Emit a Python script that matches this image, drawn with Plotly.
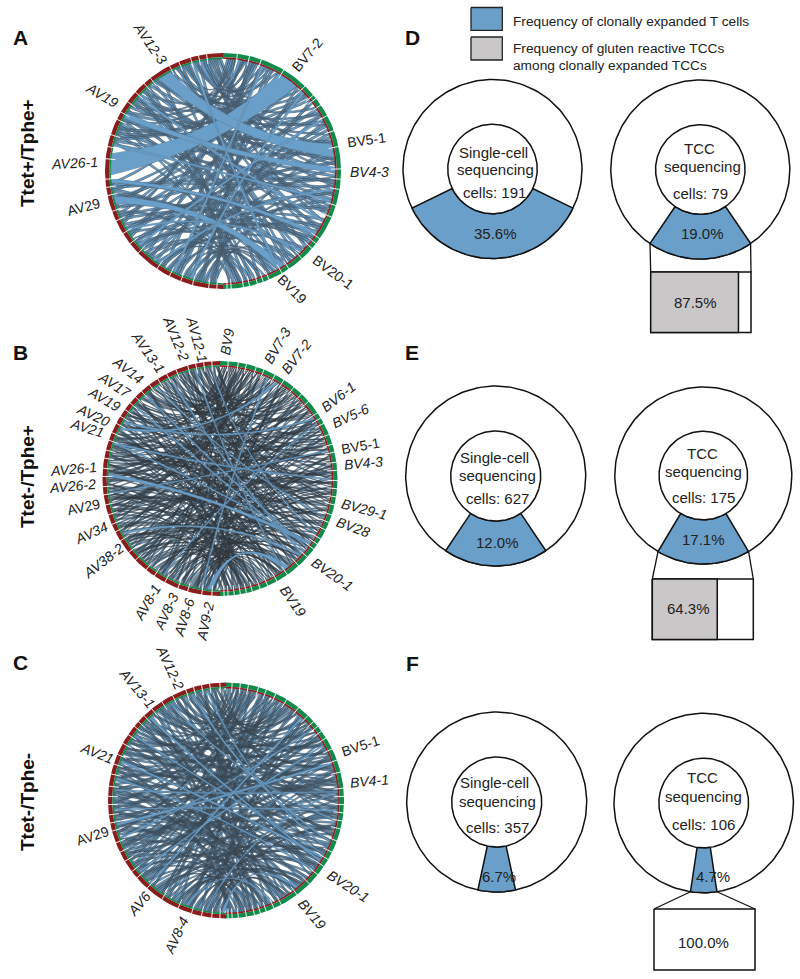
import numpy as np
import plotly.graph_objects as go

FONT = "Liberation Sans"
BLUE = "#6a9fc9"
GRAY = "#c9c7c8"
RED = "#8a1c1e"
GREEN = "#0f8a4a"
TXT = "#222222"

# ---------- chord panels: angles in degrees clockwise from top ----------
A_thin_alpha = [183,185,186,188,190,192,193,195,197,199,200,202,204,206,207,209,211,213,214,216,218,220,222,223,225,227,229,230,232,234,236,238,239,241,243,245,246,248,250,252,254,255,257,259,261,263,264,284,285,287,288,290,292,293,295,297,298,300,302,304,305,307,309,310,312,314,316,317,319,321,323,324,326,328,330,332,333,335,337,339,340,342,344,346,347,349,351,353,354,356,358,186,194,203,212,221,231,242,251,262,286,296,306,318,329,341,352]
A_thin_beta = [12,41,145,77,23,160,96,5,118,64,172,33,105,150,52,88,14,133,170,44,122,68,8,158,101,29,142,72,115,17,165,56,93,128,3,47,110,175,85,21,137,60,152,36,98,10,125,163,80,26,140,107,58,172,15,92,130,48,155,74,6,119,35,147,83,20,168,102,63,135,11,90,176,43,112,28,156,70,124,4,97,143,55,24,161,86,116,39,132,9,76,51,153,19,108,167,66,2,127,94,31,148,79,174,46,121,13]
A_more_alpha = [184,191,198,205,215,226,235,244,253,260,283,289,294,301,308,315,322,331,338,345,350,355,189,208,219,228,237,247,258,291,299,311,327,336,348,357]
A_more_beta = [100,25,155,60,140,85,15,120,40,170,95,50,130,10,75,165,35,110,145,65,5,90,160,70,30,126,82,16,150,38,104,171,59,138,22,84]
A_band_alpha = [268,325,298,253,264,344,214,228,205,196,238,311,283,348]
A_band_beta = [30,76,88,147,123,150,99,62,20,45,135,116,105,8]
A_band_size = [11,7,3,4,2,1.2,1.2,1.2,1.2,1.2,1.2,1.2,1.2,1.2]
A_ticks = [183,187,195,201,207,214,226,232,238,245,250,258,262,266,276,282,288,296,300,306,312,318,322,333,338,344,348,352,7,13,19,31,44,50,52,56,62,70,78,89,94,99,107,113,125,128,131,138,146,150,157,160,163,167,170,176,178]

B_thin_alpha = [181,182,183,184,186,187,188,189,191,192,193,194,196,197,198,199,201,202,203,204,206,207,208,209,211,212,213,214,216,217,218,219,221,222,223,224,226,227,228,229,231,232,233,234,236,237,238,239,241,242,243,244,246,247,248,249,251,252,253,254,256,257,258,259,261,262,263,264,266,267,268,269,271,272,273,274,276,277,278,279,281,282,283,284,286,287,288,289,291,292,293,294,296,297,298,299,301,302,303,304,306,307,308,309,311,312,313,314,316,317,318,319,321,322,323,324,326,327,328,329,331,332,333,334,336,337,338,339,341,342,343,344,346,347,348,349,351,352,353,354,356,357,358,359,185,190,195,200,205,210,215,220,225,230,235,240,245,250,255,260,265,270,275,280,285,290,295,300,305,310,315,320,325,330,335,340,345,350,355,184,199,213,228,243,258,274,289,304,319,334,349,192,207,222,237,252,267,282,297,312]
B_thin_beta = [88,17,141,52,169,33,106,74,5,128,61,155,24,97,176,43,119,9,83,147,36,162,68,112,2,134,57,91,172,21,125,46,153,79,13,101,165,30,139,64,8,117,85,158,39,109,174,55,131,19,95,148,71,3,122,42,167,87,27,136,60,179,11,103,50,151,76,34,115,160,7,92,143,66,23,127,48,170,82,14,110,155,37,98,1,133,62,175,28,120,73,146,16,104,45,163,89,31,138,58,10,113,168,70,25,129,53,150,94,6,123,41,177,80,19,107,159,35,142,65,12,99,171,49,126,75,22,144,90,4,118,56,164,38,102,152,67,15,135,84,29,173,47,111,78,20,156,59,130,8,96,166,40,121,69,18,145,86,32,114,178,51,137,77,3,100,161,44,124,63,26,149,93,11,116,54,169,36,140,81,6,105,157,72,22,132,61,175,43,108,16,147,83,30,127,58,167,92,1,119,46,154,74,28,138,97,13,163,52,112,35,144,68,9,125]
B_more_alpha = [186,309,224,271,198,337,252,289,211,346,233,262,184,320,277,205,298,241,355,268,192,314,229,284,340,217,256,301,188,327,246,274,351,208,293,236,263,316,196,343,281,222,306,250,358,201,269,332,227,290,183,312,259,344,214,279,238,323,194,354,265,304,219,338,248,286,209,351,231,296,187,325,256,273,203,342,242,309,266,190,330,226,283,359,211,299,253,318,235,277,199,347,262,305,220,335,244,291,185,321,270,214,302,257,340,229,287,193,353,239,275,311,206,328,251,295,224,345,261,183]
B_more_beta = [44,150,9,118,72,33,166,90,21,137,58,104,173,12,81,148,39,126,64,5,157,95,28,113,170,49,140,75,16,101,162,36,129,86,2,151,60,109,24,176,68,143,31,97,55,123,14,159,42,84,133,7,115,47,168,78,19,145,92,38,120,63,175,26,106,153,50,88,11,134,71,164,34,99,141,56,17,127,82,4,172,45,111,66,149,22,94,136,59,10,160,77,116,29,178,40,103,147,69,15,124,53,87,165,32,139,1,96,154,61,20,117,74,142,35,168]
B_band_alpha = [296,271,288,310,333,184,189,300,288,347,325,262,240,210,318,355]
B_band_beta = [30,125,126,130,132,142,25,57,90,145,110,75,133,60,128,120]
B_band_size = [1.3,1.7,0.8,0.8,0.8,2.6,0.8,1.0,0.8,0.7,0.7,0.7,1.1,0.7,0.8,0.7]
B_ticks = [184,189,196,201,208,214,219,226,231,238,243,247,252,257,262,266,271,275,280,284,289,293,298,302,306,310,314,318,323,328,333,338,344,348,352,356,4,9,13,18,22,28,33,39,44,49,56,59,62,68,73,77,82,86,91,95,99,103,108,112,116,121,124,127,132,138,145,151,156,160,164,167,170,173,176,178]

C_thin_alpha = [182,183,185,186,187,189,190,192,193,194,196,197,199,200,201,203,204,206,207,208,210,211,213,214,215,217,218,220,221,222,224,225,227,228,229,231,232,234,235,236,238,239,241,242,243,245,246,248,249,250,252,253,255,256,257,259,260,262,263,264,266,267,269,270,271,273,274,276,277,278,280,281,283,284,285,287,288,290,291,292,294,295,297,298,299,301,302,304,305,306,308,309,311,312,313,315,316,318,319,320,322,323,325,326,327,329,330,332,333,334,336,337,339,340,341,343,344,346,347,348,350,351,353,354,355,357,358,184,191,198,205,212,219,226,233,240,247,254,261,268,275,282,289,296,303,310,317,324,331,338,345,352,188,202,216,230,244,258,272,286,300,314,328,342]
C_thin_beta = [61,148,27,103,172,40,89,12,134,66,157,21,116,49,178,75,3,125,95,36,162,58,141,18,107,83,169,31,120,6,152,70,44,98,175,25,130,62,10,145,87,38,113,165,53,1,127,78,155,33,101,15,138,68,173,46,92,122,8,159,56,110,28,143,80,4,133,63,168,37,97,19,151,72,118,42,177,85,13,126,57,160,30,105,140,76,22,114,50,166,90,7,136,64,171,35,100,153,16,123,69,47,146,82,2,111,163,39,94,131,59,174,24,108,73,149,11,128,52,164,86,34,119,158,65,5,99,43,137,77,170,20,115,54,161,29,93,142,67,9,124,48,176,84,32,106,150,60,14,129,74,167,41,96,135,55,26,112,156,79,0,121,88,45,147,17,103,71]
C_more_alpha = [186,214,243,272,301,330,195,224,253,282,311,340,205,234,263,292,321,350,182,210,239,268,297,326,355,191,220,249,278,307,336,200,229,258,287,316,345,208,237,266,295,324,353,188,217,246,275,304,333,198,227,256,285,314,343,204,233,262,291,320,349]
C_more_beta = [110,33,167,75,14,139,52,91,158,24,120,66,179,44,102,8,147,81,36,126,60,172,19,95,150,71,3,115,47,133,86,160,27,104,12,141,57,178,38,93,124,68,6,153,80,22,117,49,164,89,31,137,74,10,107,55,169,42,98,145,16]
C_band_alpha = [257,290,317,342,190,275,265,230,181,305,250,330,222,281,200,350]
C_band_beta = [70,120,122,111,85,85,95,60,140,118,50,100,42,128,155,115]
C_band_size = [1.2,1.0,1.0,1.0,0.8,0.7,0.7,0.8,1.3,0.8,0.8,0.8,0.8,0.8,1.1,0.8]
C_ticks = [183,187,192,197,204,213,222,229,233,239,244,249,255,259,263,268,272,277,283,288,293,299,304,309,312,316,321,327,333,340,344,348,352,357,3,7,11,16,20,25,31,38,44,48,51,54,58,64,70,76,84,88,92,96,100,104,110,116,120,124,129,135,143,152,156,160,163,166,170,174,177,179]

A_labels = [("AV12-3",150,43,55,1),("BV7-2",307,55,-50,0),("AV19",102,95,31,1),("BV5-1",366,140,-8,0),("AV26-1",74,163,-3,1),("BV4-3",369,172,0,1),("AV29",83,207,-15,0),("BV20-1",333,272,37,0),("BV19",292,289,45,0)]
B_labels = [("AV12-1",197,339,75,1),("AV12-2",176,338,68,1),("AV13-1",148,352,55,1),("AV14",128,370,38,1),("AV17",115,385,33,1),("AV19",104,399,30,1),("AV20",93,415,25,1),("AV21",87,428,17,1),("AV26-1",73,469,-5,1),("AV26-2",72,486,-5,1),("AV29",83,507,-12,0),("AV34",91,533,-25,1),("AV38-2",103,561,-38,1),("AV8-1",147,603,-60,1),("AV8-3",166,612,-65,1),("AV8-6",184,618,-72,1),("AV9-2",205,622,-78,1),("BV9",227,342,-80,1),("BV7-3",277,346,-60,1),("BV7-2",296,357,-52,1),("BV6-1",338,397,-38,1),("BV5-6",350,416,-25,1),("BV5-1",360,446,-10,0),("BV4-3",363,463,-5,1),("BV29-1",364,509,15,1),("BV28",353,527,20,1),("BV20-1",332,574,35,1),("BV19",293,601,55,1)]
C_labels = [("AV12-2",170,667,65,1),("AV13-1",137,688,50,1),("AV21",97,753,22,1),("AV29",92,836,-18,0),("AV6",139,904,-50,1),("AV8-4",176,936,-65,1),("BV5-1",360,746,-18,0),("BV4-1",369,781,-5,1),("BV20-1",348,886,33,1),("BV19",312,914,50,1)]

# ---------- donut panels ----------
donut_pct = [35.6, 19.0, 12.0, 17.1, 6.7, 4.7]
# wedge share as drawn in the picture (panel E's single-cell wedge is wider than its label)
wedge_share = [35.6, 19.0, 18.8, 17.1, 6.7, 4.7]
donut_cells = [191, 79, 627, 175, 357, 106]
donut_method = ["Single-cell", "TCC", "Single-cell", "TCC", "Single-cell", "TCC"]
donut_cx = [492.5, 700.3, 495.7, 703.3, 496.7, 703.7]
donut_cy = [169, 169.5, 476, 475.5, 802, 803]
donut_R = [89.5, 89.5, 90, 88.5, 90, 89.7]
box_pct = [87.5, 64.3, 100.0]
box_gray = [True, True, False]
box_x = [(650.7, 751), (652.3, 753.3), (654, 755)]
box_y = [(272, 332.5), (579, 639.5), (909, 970)]

fig = go.Figure()
t = np.linspace(0, 1, 15)
BEND = 0.5


def pol(deg, r, cx, cy):
    a = np.radians(deg)
    return cx + r * np.sin(a), cy - r * np.cos(a)


def ribbon(a1, a2, b1, b2, r, cx, cy):
    xs, ys = [], []
    for d0, d1, d2 in [(a1, a2, b1), (b1, b2, a1)]:
        arc = np.linspace(d0, d1, 4)
        x, y = pol(arc, r, cx, cy)
        xs += list(x)
        ys += list(y)
        x0, y0 = pol(d1, r, cx, cy)
        x1, y1 = pol(d2, r, cx, cy)
        qx = (x0 + x1) / 2 + BEND * (cx - (x0 + x1) / 2)
        qy = (y0 + y1) / 2 + BEND * (cy - (y0 + y1) / 2)
        xs += list((1 - t) ** 2 * x0 + 2 * t * (1 - t) * qx + t ** 2 * x1)
        ys += list((1 - t) ** 2 * y0 + 2 * t * (1 - t) * qy + t ** 2 * y1)
    return xs + [None], ys + [None]


def poly(xs, ys, fill, line=None, width=0):
    fig.add_trace(go.Scatter(x=xs, y=ys, mode="lines", fill="toself", fillcolor=fill,
                             line=dict(color=line or fill, width=width), hoverinfo="skip", showlegend=False))


def ring(d0, d1, r0, r1, cx, cy, color):
    arc = np.linspace(d0, d1, 120)
    x0, y0 = pol(arc, r0, cx, cy)
    x1, y1 = pol(arc[::-1], r1, cx, cy)
    poly(list(x0) + list(x1), list(y0) + list(y1), color)


def chord_panel(cx, cy, R, ta, tb, tw, edge, ew, ba, bb, bs, ticks, labels):
    r = R - 5.8
    X, Y = [], []
    for a, b in zip(ta, tb):
        x, y = ribbon(a, a + tw, b, b + tw, r, cx, cy)
        X += x
        Y += y
    poly(X, Y, BLUE, edge, ew)
    for a, b, s in zip(ba, bb, bs):
        x, y = ribbon(a, a + s, b, b + s, r, cx, cy)
        poly(x, y, BLUE, "#557a97", 0.4)
    ring(0, 180, R - 4.2, R, cx, cy, GREEN)
    ring(180, 360, R - 4.2, R, cx, cy, RED)
    ring(0, 180, R - 5.8, R - 4.2, cx, cy, RED)
    ring(180, 360, R - 5.8, R - 4.2, cx, cy, GREEN)
    X, Y = [], []
    for d in ticks:
        x, y = pol(np.array([d, d]), np.array([R - 10, R + 1]), cx, cy)
        X += list(x) + [None]
        Y += list(y) + [None]
    fig.add_trace(go.Scatter(x=X, y=Y, mode="lines", line=dict(color="white", width=0.9),
                             hoverinfo="skip", showlegend=False))
    for txt, x, y, ang, it in labels:
        label = f"<i>{txt}</i>" if it else txt
        fig.add_annotation(x=x, y=y, text=label, textangle=ang, showarrow=False,
                           font=dict(family=FONT, size=14, color=TXT), xanchor="center", yanchor="middle")


chord_panel(223, 171, 118, A_thin_alpha + A_more_alpha, A_thin_beta + A_more_beta, 1.2, "#46596a", 0.6,
            A_band_alpha, A_band_beta, A_band_size, A_ticks, A_labels)
chord_panel(220, 478.5, 117.5, B_thin_alpha + B_more_alpha, B_thin_beta + B_more_beta, 0.5, "#33383d", 0.42,
            B_band_alpha, B_band_beta, B_band_size, B_ticks, B_labels)
chord_panel(226, 800.5, 118, C_thin_alpha + C_more_alpha, C_thin_beta + C_more_beta, 0.9, "#3a4650", 0.5,
            C_band_alpha, C_band_beta, C_band_size, C_ticks, C_labels)


def text(x, y, s, size=15, bold=False, angle=0, anchor="center", color=TXT):
    fig.add_annotation(x=x, y=y, text=f"<b>{s}</b>" if bold else s, showarrow=False, textangle=angle,
                       font=dict(family=FONT, size=size, color=color), xanchor=anchor, yanchor="middle")


def circle(cx, cy, r):
    arc = np.linspace(0, 360, 181)
    x, y = pol(arc, r, cx, cy)
    poly(list(x), list(y), "white", "#111111", 1.5)


donut_text = [
    [(493, 152), (495, 169), (494, 192), (495, 233)],
    [(699, 148), (702, 166), (700, 193), (702, 233)],
    [(494, 457), (497, 475), (497, 498), (497, 542)],
    [(702, 453), (703, 471), (703, 497), (703, 539)],
    [(494, 782), (497, 801), (497, 827), (499, 876)],
    [(702, 777), (703, 796), (703, 824), (713, 876)],
]
box_text = [(695, 302), (688, 608), (703, 942)]

for i, pct in enumerate(donut_pct):
    cx, cy, R = donut_cx[i], donut_cy[i], donut_R[i]
    circle(cx, cy, R)
    half = wedge_share[i] * 1.8
    arc = np.linspace(180 - half, 180 + half, 60)
    x0, y0 = pol(arc, R, cx, cy)
    x1, y1 = pol(arc[::-1], R * 0.5, cx, cy)
    poly(list(x0) + list(x1) + [x0[0]], list(y0) + list(y1) + [y0[0]], BLUE, "#111111", 1.5)
    circle(cx, cy, R * 0.5)
    pos = donut_text[i]
    text(*pos[0], donut_method[i])
    text(*pos[1], "sequencing")
    text(*pos[2], f"cells: {donut_cells[i]}")
    text(*pos[3], f"{pct:.1f}%")
    if i % 2 == 1:
        j = i // 2
        (xl, xr), (yt, yb) = box_x[j], box_y[j]
        lx, ly = pol(180 + half, R, cx, cy)
        rx, ry = pol(180 - half, R, cx, cy)
        fig.add_trace(go.Scatter(x=[lx, xl, None, rx, xr], y=[ly, yt, None, ry, yt], mode="lines",
                                 line=dict(color="#111111", width=1.3), hoverinfo="skip", showlegend=False))
        poly([xl, xr, xr, xl, xl], [yt, yt, yb, yb, yt], "white", "#111111", 1.5)
        if box_gray[j]:
            xm = xl + (xr - xl) * box_pct[j] / 100
            poly([xl, xm, xm, xl, xl], [yt, yt, yb, yb, yt], GRAY, "#111111", 1.5)
        text(*box_text[j], f"{box_pct[j]:.1f}%")

# legend
poly([471, 502.3, 502.3, 471, 471], [7.5, 7.5, 30.3, 30.3, 7.5], BLUE, "#222222", 1.3)
poly([471, 502.3, 502.3, 471, 471], [37, 37, 60, 60, 37], GRAY, "#222222", 1.3)
text(511, 21.5, "Frequency of clonally expanded T cells", size=13.7, anchor="left")
text(511, 48, "Frequency of gluten reactive TCCs", size=13.7, anchor="left")
text(511, 65, "among clonally expanded TCCs", size=13.7, anchor="left")

# panel titles
for s, x, y in [("A", 20, 37), ("B", 20, 352), ("C", 20, 662), ("D", 412, 37), ("E", 412, 352), ("F", 412, 663)]:
    text(x, y, s, size=21, bold=True, color="#111111")
for s, y in [("Ttet+/Tphe+", 153), ("Ttet-/Tphe+", 477), ("Ttet-/Tphe-", 802)]:
    text(27, y, s, size=19, bold=True, angle=-90, color="#111111")

fig.update_layout(width=800, height=979, margin=dict(l=0, r=0, t=0, b=0), paper_bgcolor="white",
                  plot_bgcolor="white", showlegend=False,
                  xaxis=dict(range=[0, 800], visible=False, fixedrange=True),
                  yaxis=dict(range=[979, 0], visible=False, fixedrange=True))
fig.write_html("out.html", config={"displayModeBar": False},
               post_script="document.body.style.margin='0';document.documentElement.style.overflow='hidden';")
